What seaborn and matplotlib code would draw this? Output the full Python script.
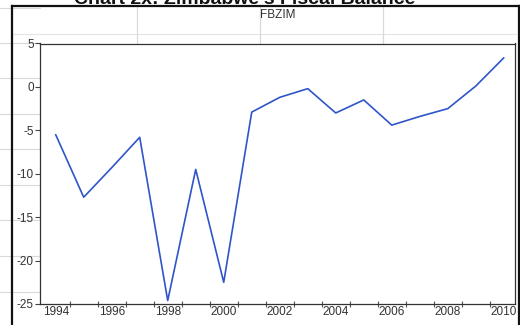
import matplotlib
matplotlib.use("Agg")
import matplotlib.pyplot as plt
from matplotlib.lines import Line2D
import seaborn as sns
import pandas as pd

# Zimbabwe fiscal balance (FBZIM), 1994-2010
years = [1994, 1995, 1996, 1997, 1998, 1999, 2000, 2001, 2002,
         2003, 2004, 2005, 2006, 2007, 2008, 2009, 2010]
fbzim = [-5.5, -12.7, -9.3, -5.8, -24.6, -9.5, -22.5, -2.9, -1.2,
         -0.2, -3.0, -1.5, -4.4, -3.4, -2.5, 0.1, 3.35]
year_labels = ["1994", "1996", "1998", "2000", "2002", "2004", "2006", "2008", "2010"]
y_ticks = [-25, -20, -15, -10, -5, 0, 5]

df = pd.DataFrame({"year": years, "FBZIM": fbzim})

sns.set_style("white")
plt.rcParams["font.family"] = ["Liberation Sans", "DejaVu Sans"]

W, H = 520, 325
fig = plt.figure(figsize=(W / 100, H / 100), dpi=100)
fig.patch.set_facecolor("white")


def fx(px):
    return px / W


def fy(py):
    return 1 - py / H


# faint worksheet cell lines behind the chart object
grid_c = "#d9d9d9"
for py in [8, 43, 78, 114, 149, 185, 220, 256, 292]:
    fig.add_artist(Line2D([0, fx(40)], [fy(py), fy(py)], color=grid_c,
                          lw=0.8, zorder=-2, transform=fig.transFigure))
fig.add_artist(Line2D([fx(12), fx(516)], [fy(34), fy(34)], color="#e4e4e4",
                      lw=0.8, zorder=-2, transform=fig.transFigure))
for px in [137, 260, 383]:
    fig.add_artist(Line2D([fx(px), fx(px)], [fy(6), fy(43)], color=grid_c,
                          lw=0.9, zorder=-2, transform=fig.transFigure))

# chart object frame
frame_kw = dict(color="#111111", lw=1.6, zorder=-1, transform=fig.transFigure,
                solid_capstyle="projecting")
fig.add_artist(Line2D([fx(11.5), fx(11.5)], [fy(6), 0], **frame_kw))
fig.add_artist(Line2D([fx(11.5), fx(518.5)], [fy(6), fy(6)], **frame_kw))
fig.add_artist(Line2D([fx(518.5), fx(518.5)], [fy(6), 0], **frame_kw))

# document caption above the chart
fig.text(fx(245), fy(4.5), "Chart 2x: Zimbabwe's Fiscal Balance", ha="center",
         va="baseline", fontsize=14, fontweight="bold", color="#111111")

ax = fig.add_axes([fx(40), 1 - 304 / H, fx(515) - fx(40), (304 - 43.5) / H])
ax.set_facecolor("white")

sns.lineplot(data=df, x="year", y="FBZIM", ax=ax, color="#2f55c9",
             linewidth=1.2, legend=False)

ax.set_xlim(1993.44, 2010.4)
ax.set_ylim(-25, 5)

ax.set_xticks([int(s) for s in year_labels])
ax.set_xticklabels(year_labels)
ax.set_xticks([y + 0.5 for y in years[:-1]], minor=True)
ax.tick_params(axis="x", which="major", length=0, pad=1.5, labelsize=8.5,
               labelcolor="#333333")
ax.tick_params(axis="x", which="minor", direction="inout", length=5,
               width=0.8, color="#555555", bottom=True)

ax.set_yticks(y_ticks)
ax.set_yticklabels([str(v) for v in y_ticks])
ax.tick_params(axis="y", which="major", direction="out", length=3.5,
               width=0.8, color="#444444", pad=1, labelsize=8.5,
               labelcolor="#333333", left=True)

for side in ["left", "bottom", "top", "right"]:
    ax.spines[side].set_visible(True)
    ax.spines[side].set_color("#333333")
    ax.spines[side].set_linewidth(0.9)

ax.set_xlabel("")
ax.set_ylabel("")
ax.grid(False)

fig.text((fx(40) + fx(515)) / 2, fy(15.5), "FBZIM", ha="center", va="center",
         fontsize=8.5, color="#333333")

fig.savefig("out.png", dpi=100, facecolor="white")
